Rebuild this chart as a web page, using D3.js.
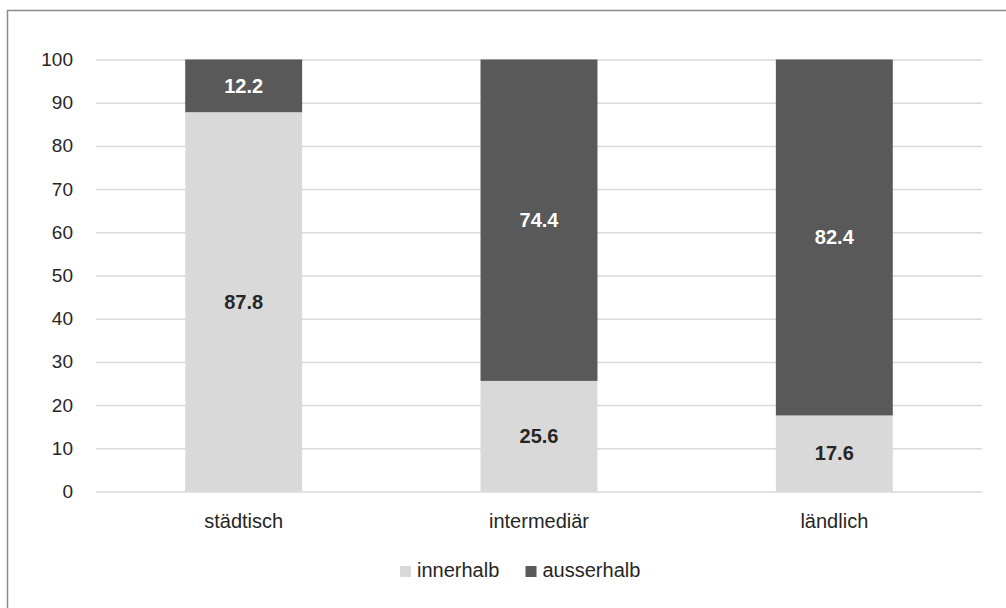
<!DOCTYPE html>
<html>
<head>
<meta charset="utf-8">
<script src="https://cdn.jsdelivr.net/npm/d3@7"></script>
<style>
  html, body { margin: 0; padding: 0; background: #fff; }
  svg { display: block; font-family: "Liberation Sans", Arial, sans-serif; }
</style>
</head>
<body>
<svg id="chart" width="1006" height="608"></svg>
<script>
// Stacked share (%) of locations inside vs. outside, by settlement type
const categories = ["städtisch", "intermediär", "ländlich"];
const innerhalb = [87.8, 25.6, 17.6];
const ausserhalb = [12.2, 74.4, 82.4];
const seriesNames = ["innerhalb", "ausserhalb"];
const seriesColors = ["#d9d9d9", "#595959"];
const labelColors = ["#262626", "#ffffff"];
const yTicks = [0, 10, 20, 30, 40, 50, 60, 70, 80, 90, 100];

const svg = d3.select("#chart");
const W = 1006, H = 608;
const plot = { left: 96, right: 982, top: 59.5, bottom: 491.5 };

// outer frame
svg.append("rect")
  .attr("x", 7.5).attr("y", 10.5)
  .attr("width", W + 10).attr("height", H + 10)
  .attr("fill", "none").attr("stroke", "#8a8a8a").attr("stroke-width", 1.5);

const x = d3.scaleBand().domain(categories)
  .range([plot.left, plot.right]).paddingInner(0.604).paddingOuter(0.302);
const y = d3.scaleLinear().domain([0, 100]).range([plot.bottom, plot.top]);

// gridlines + y tick labels
const yAxis = d3.axisLeft(y).tickValues(yTicks)
  .tickSize(-(plot.right - plot.left)).tickPadding(23);
const gy = svg.append("g").attr("transform", `translate(${plot.left},0)`).call(yAxis);
gy.select(".domain").remove();
gy.selectAll(".tick line").attr("stroke", "#d9d9d9").attr("stroke-width", 1.5);
gy.selectAll(".tick text").attr("fill", "#262626").attr("font-size", 19);

// stacked bars
const rows = categories.map((c, i) => ({ cat: c, innerhalb: innerhalb[i], ausserhalb: ausserhalb[i] }));
const stack = d3.stack().keys(seriesNames)(rows);

const layers = svg.append("g").selectAll("g").data(stack).join("g")
  .attr("fill", (d, i) => seriesColors[i]);
layers.selectAll("rect").data(d => d).join("rect")
  .attr("x", d => x(d.data.cat))
  .attr("width", x.bandwidth())
  .attr("y", d => y(d[1]))
  .attr("height", d => y(d[0]) - y(d[1]));

// value labels centred in each segment
stack.forEach((layer, li) => {
  svg.append("g").selectAll("text").data(layer).join("text")
    .attr("x", d => x(d.data.cat) + x.bandwidth() / 2)
    .attr("y", d => y((d[0] + d[1]) / 2))
    .attr("dy", "0.35em")
    .attr("text-anchor", "middle")
    .attr("font-size", 20).attr("font-weight", "bold")
    .attr("fill", labelColors[li])
    .text(d => d3.format(".1f")(d[1] - d[0]));
});

// category axis labels
const xAxis = d3.axisBottom(x).tickSize(0).tickPadding(22.5);
const gx = svg.append("g").attr("transform", `translate(0,${plot.bottom})`).call(xAxis);
gx.select(".domain").remove();
gx.selectAll(".tick text").attr("fill", "#262626").attr("font-size", 20);

// legend
const legendItems = [
  { name: "innerhalb", color: seriesColors[0], x: 400 },
  { name: "ausserhalb", color: seriesColors[1], x: 525.5 }
];
const lg = svg.append("g").selectAll("g").data(legendItems).join("g")
  .attr("transform", d => `translate(${d.x},577)`);
lg.append("rect").attr("x", 0).attr("y", -11).attr("width", 11).attr("height", 11)
  .attr("fill", d => d.color);
lg.append("text").attr("x", 17)
  .attr("font-size", 20).attr("fill", "#262626").text(d => d.name);
</script>
</body>
</html>
